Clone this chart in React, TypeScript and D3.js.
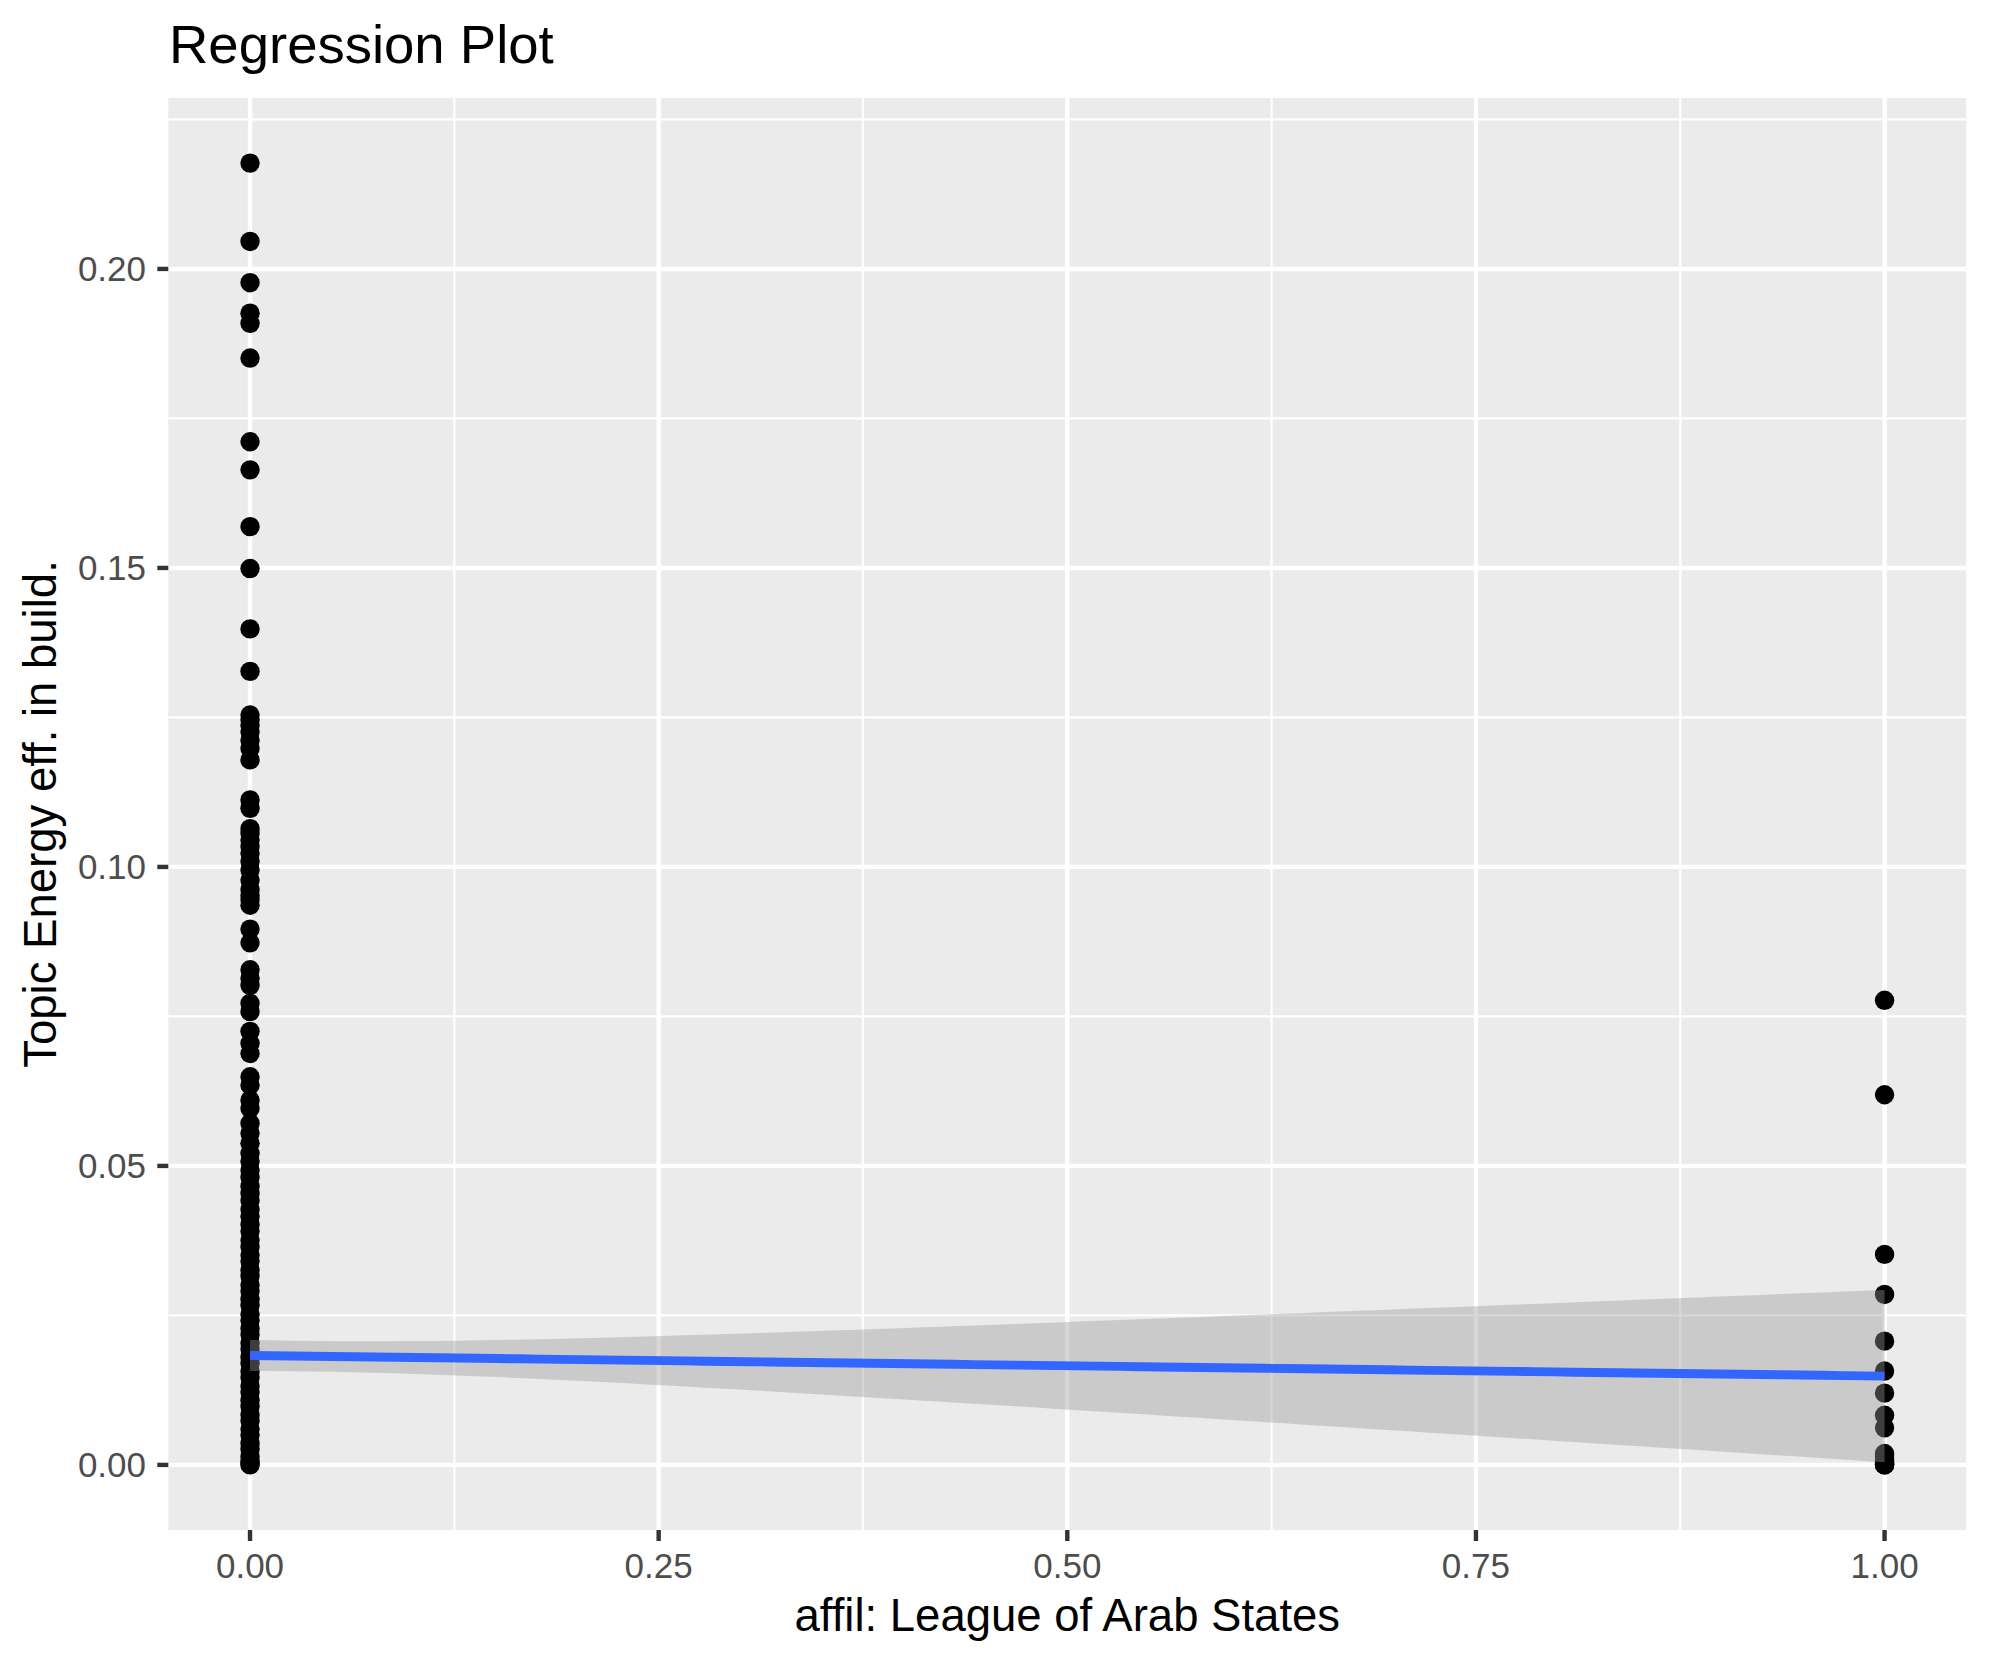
import React from "react";
import * as d3 from "d3";

// ---- data ----
const title = "Regression Plot";
const xLabel = "affil: League of Arab States";
const yLabel = "Topic Energy eff. in build.";

const xTicks = [0, 0.25, 0.5, 0.75, 1];
const xMinor = [0.125, 0.375, 0.625, 0.875];
const yTicks = [0, 0.05, 0.1, 0.15, 0.2];
const yMinor = [0.025, 0.075, 0.125, 0.175, 0.225];

// observations with affil = 0
const group0 = [
  0.2177, 0.2046, 0.1977, 0.1926, 0.1909, 0.1851, 0.1711, 0.1664, 0.1569, 0.1499, 0.1398, 0.1327,
  0.1254, 0.1246, 0.1237, 0.1226, 0.1212, 0.1198, 0.1179,
  0.1112, 0.1098,
  0.1064, 0.1056, 0.1045, 0.1034, 0.1023, 0.1009, 0.0995, 0.0978, 0.0962, 0.0952, 0.0945, 0.0936,
  0.0896, 0.0873,
  0.0828, 0.0814, 0.0802, 0.0772, 0.0758, 0.0725, 0.0705, 0.0688,
  0.0649, 0.0635, 0.061, 0.0596,
  0.0571, 0.0555, 0.0538, 0.0521, 0.0508, 0.0493, 0.0481, 0.0466, 0.0454, 0.0442, 0.0427, 0.0416,
  0.0402, 0.0391, 0.0376, 0.0365, 0.0351, 0.0341, 0.0326, 0.0316, 0.0301, 0.0291, 0.0277, 0.0267,
  0.0252, 0.0242, 0.0228, 0.0218, 0.0204, 0.0194, 0.018, 0.017, 0.0156, 0.0146, 0.0132, 0.0122,
  0.0108, 0.0098, 0.0084, 0.0074, 0.006, 0.005, 0.0036, 0.0026, 0.0014, 0.0006, 0.0002, 0.0,
];

// observations with affil = 1
const group1 = [
  0.0777, 0.0619, 0.0352, 0.0285, 0.0207, 0.0157, 0.012, 0.0083, 0.0062, 0.0019, 0.0015, 0.001,
  0.0006, 0.0003, 0.0002, 0.0001, 0.0, 0.0,
];

// linear fit: fitted values and 95% CI half-widths at x = 0 and x = 1
const fitAt0 = 0.01831;
const fitAt1 = 0.01485;
const ciHalf0 = 0.00259;
const ciHalf1 = 0.01441;

const W = 1990;
const H = 1665;
const panel = { left: 168.3, right: 1966.3, top: 98, bottom: 1530 };
const FONT = "'Liberation Sans', Arial, Helvetica, sans-serif";

export default function App() {
  const yMax = d3.max([...group0, ...group1]) as number;
  const x = d3.scaleLinear().domain([-0.05, 1.05]).range([panel.left, panel.right]);
  const y = d3
    .scaleLinear()
    .domain([-0.05 * yMax, 1.05 * yMax])
    .range([panel.bottom, panel.top]);

  // prediction band from the binary-regressor OLS fit evaluated on ggplot's 80-point grid
  const grid = d3.range(80).map((i) => i / 79);
  const band = grid.map((t) => {
    const fit = fitAt0 + (fitAt1 - fitAt0) * t;
    const hw = Math.sqrt(ciHalf0 * ciHalf0 * (1 - t) * (1 - t) + ciHalf1 * ciHalf1 * t * t);
    return { t, fit, lo: fit - hw, hi: fit + hw };
  });
  const area = d3
    .area<{ t: number; lo: number; hi: number }>()
    .x((d) => x(d.t))
    .y0((d) => y(d.lo))
    .y1((d) => y(d.hi));
  const line = d3
    .line<{ t: number; fit: number }>()
    .x((d) => x(d.t))
    .y((d) => y(d.fit));

  const pts = [
    ...group0.map((v) => ({ xv: 0, yv: v })),
    ...group1.map((v) => ({ xv: 1, yv: v })),
  ];

  const pw = panel.right - panel.left;
  const ph = panel.bottom - panel.top;

  return (
    <svg
      width={W}
      height={H}
      style={{ position: "absolute", left: 0, top: 0, background: "#fff" }}
      fontFamily={FONT}
    >
      <defs>
        <clipPath id="pclip">
          <rect x={panel.left} y={panel.top} width={pw} height={ph} />
        </clipPath>
      </defs>
      <rect x={0} y={0} width={W} height={H} fill="#fff" />
      <rect x={panel.left} y={panel.top} width={pw} height={ph} fill="#EBEBEB" />
      <g clipPath="url(#pclip)">
        {yMinor.map((v) => (
          <line key={"ym" + v} x1={panel.left} x2={panel.right} y1={y(v)} y2={y(v)} stroke="#fff" strokeWidth={2.2} />
        ))}
        {xMinor.map((v) => (
          <line key={"xm" + v} x1={x(v)} x2={x(v)} y1={panel.top} y2={panel.bottom} stroke="#fff" strokeWidth={2.2} />
        ))}
        {yTicks.map((v) => (
          <line key={"yM" + v} x1={panel.left} x2={panel.right} y1={y(v)} y2={y(v)} stroke="#fff" strokeWidth={4.4} />
        ))}
        {xTicks.map((v) => (
          <line key={"xM" + v} x1={x(v)} x2={x(v)} y1={panel.top} y2={panel.bottom} stroke="#fff" strokeWidth={4.4} />
        ))}
        {pts.map((p, i) => (
          <circle key={i} cx={x(p.xv)} cy={y(p.yv)} r={9.7} fill="#000" />
        ))}
        <path d={area(band) || ""} fill="#999999" fillOpacity={0.4} />
        <path d={line(band) || ""} fill="none" stroke="#3366FF" strokeWidth={8.9} />
      </g>

      {/* y axis */}
      {yTicks.map((v) => (
        <g key={"yt" + v}>
          <line x1={panel.left - 11} x2={panel.left} y1={y(v)} y2={y(v)} stroke="#333333" strokeWidth={4.4} />
          <text x={146} y={y(v) + 12.4} textAnchor="end" fontSize={35} fill="#4D4D4D">
            {d3.format(".2f")(v)}
          </text>
        </g>
      ))}
      {/* x axis */}
      {xTicks.map((v) => (
        <g key={"xt" + v}>
          <line x1={x(v)} x2={x(v)} y1={panel.bottom} y2={panel.bottom + 11} stroke="#333333" strokeWidth={4.4} />
          <text x={x(v)} y={1578} textAnchor="middle" fontSize={35} fill="#4D4D4D">
            {d3.format(".2f")(v)}
          </text>
        </g>
      ))}

      <text x={(panel.left + panel.right) / 2} y={1631} textAnchor="middle" fontSize={45.5} fill="#000">
        {xLabel}
      </text>
      <text
        transform={`translate(56, ${(panel.top + panel.bottom) / 2}) rotate(-90)`}
        textAnchor="middle"
        fontSize={45.5}
        fill="#000"
      >
        {yLabel}
      </text>
      <text x={169} y={63} fontSize={54.5} fill="#000">
        {title}
      </text>
    </svg>
  );
}
